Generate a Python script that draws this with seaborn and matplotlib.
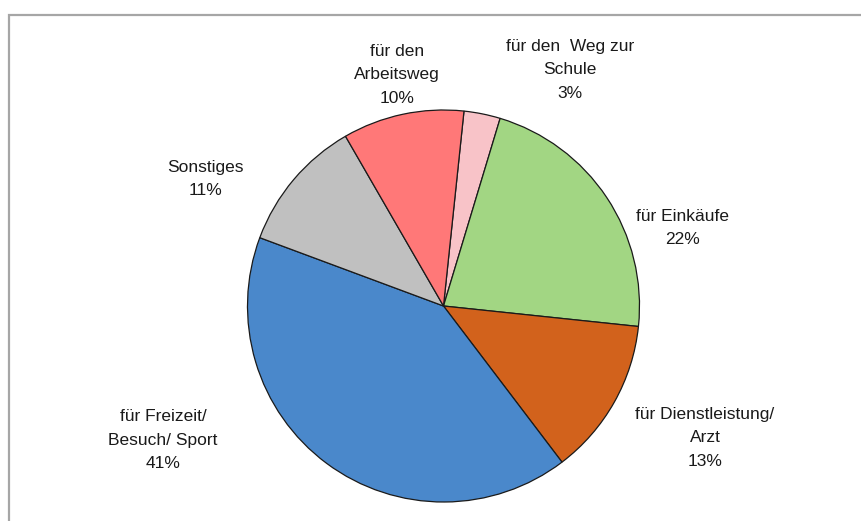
import matplotlib
matplotlib.use("Agg")
import matplotlib.pyplot as plt
import seaborn as sns
from matplotlib.patches import Rectangle

# Daten (Reihenfolge im Uhrzeigersinn ab oben)
kategorien = ["für den  Weg zur\nSchule", "für Einkäufe", "für Dienstleistung/\nArzt",
              "für Freizeit/\nBesuch/ Sport", "Sonstiges", "für den\nArbeitsweg"]
anteile = [3, 22, 13, 41, 11, 10]
farben = ["#F8C3C8", "#A2D683", "#D2621C", "#4A88CB", "#C0C0C0", "#FF7878"]

# Positionen der Beschriftungen (Pixel, y von oben)
label_pos = [(570, 70), (682, 228), (705, 438), (163, 440), (205, 179), (397, 75)]

sns.set_theme(style="white")
plt.rcParams['font.family'] = ['Liberation Sans', 'DejaVu Sans']

W, H = 861, 521
fig = plt.figure(figsize=(W / 100, H / 100), dpi=100)
ax = fig.add_axes([0, 0, 1, 1])
ax.set_xlim(0, W)
ax.set_ylim(0, H)
ax.set_aspect('equal')
ax.axis('off')

# Rahmen (unten und rechts abgeschnitten)
fig.patches.append(Rectangle((9 / W, -0.1), 1.2, (H - 15) / H + 0.1, transform=fig.transFigure,
                             fill=False, edgecolor="#a6a6a6", linewidth=1.6))

ax.pie(anteile, colors=farben, startangle=84, counterclock=False,
       center=(443.5, H - 306), radius=196, frame=True,
       wedgeprops=dict(edgecolor="#1a1a1a", linewidth=0.9))
ax.set_xlim(0, W)
ax.set_ylim(0, H)
ax.axis('off')

for kat, wert, (x, y) in zip(kategorien, anteile, label_pos):
    ax.text(x, H - y, f"{kat}\n{wert}%", ha='center', va='center',
            fontsize=12.5, color="#1a1a1a", linespacing=1.7)

plt.savefig("out.png", dpi=100)
